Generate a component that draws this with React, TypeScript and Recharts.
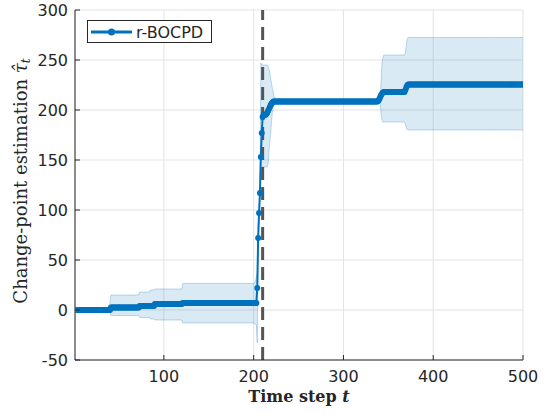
import React from "react";
import {
  ComposedChart,
  Line,
  Area,
  XAxis,
  YAxis,
  CartesianGrid,
  ReferenceLine,
} from "recharts";

// ---- data ----
// estimated change point runs: [startStep, endStep, value]
const estimateRuns: [number, number, number][] = [
  [1, 40, 0], [41, 72, 2.5], [73, 89, 4], [90, 120, 6], [121, 203, 7],
  [204, 204, 22], [205, 205, 72], [206, 206, 97], [207, 207, 117],
  [208, 208, 153], [209, 209, 177], [210, 210, 193], [211, 213, 195],
  [214, 214, 196], [215, 215, 197], [216, 216, 199], [217, 217, 201],
  [218, 218, 203], [219, 219, 205], [220, 220, 206.5], [221, 221, 207.5],
  [222, 338, 208.5], [339, 339, 209.5], [340, 340, 211], [341, 341, 213],
  [342, 342, 215], [343, 343, 216.5], [344, 344, 217.5], [345, 368, 218],
  [369, 369, 220], [370, 370, 222.5], [371, 371, 224.5], [372, 500, 225.5],
];

// uncertainty band runs: [startStep, endStep, lower, upper]
const bandRuns: [number, number, number, number][] = [
  [1, 39, 0, 0], [40, 40, -2, 8], [41, 72, -5.5, 15], [73, 84, -7.5, 18],
  [85, 89, -9, 20], [90, 120, -10, 21], [121, 200, -13, 26.5],
  [201, 201, -14, 27], [202, 202, -14, 29], [203, 203, -15, 33],
  [204, 204, -33, 37], [205, 205, 62, 80], [206, 206, 88, 105],
  [207, 207, 108, 125], [208, 208, 143, 247], [209, 215, 143, 245],
  [216, 216, 146, 244], [217, 217, 158, 241], [218, 218, 168, 238],
  [219, 219, 178, 231], [220, 220, 190, 226], [221, 221, 199, 221],
  [222, 222, 204, 217], [223, 223, 206.5, 213], [224, 224, 207.5, 210],
  [225, 340, 207.5, 209.5], [341, 341, 206, 211], [342, 342, 195, 230],
  [343, 343, 190, 248], [344, 344, 188, 253], [345, 368, 188, 255],
  [369, 369, 186, 257], [370, 370, 182, 265], [371, 371, 180.5, 271],
  [372, 500, 180, 272.5],
];

const trueChangePoint = 210;
const xTicks = [100, 200, 300, 400, 500];
const yTicks = [-50, 0, 50, 100, 150, 200, 250, 300];
const seriesName = "r-BOCPD";

// ---- build table ----
type Row = { t: number; est?: number; band?: [number, number] };
const rowMap = new Map<number, Row>();
for (const [s, e, v] of estimateRuns) {
  for (let t = s; t <= e; t++) {
    const r = rowMap.get(t) || { t };
    r.est = v;
    rowMap.set(t, r);
  }
}
for (const [s, e, lo, hi] of bandRuns) {
  for (let t = s; t <= e; t++) {
    const r = rowMap.get(t) || { t };
    r.band = [lo, hi];
    rowMap.set(t, r);
  }
}
const data: Row[] = Array.from(rowMap.values()).sort((a, b) => a.t - b.t);

const BLUE = "#0072BD";
const AXIS = "#262626";
const TICK_FONT = "DejaVu Sans";

const BottomTick = (p: any) => {
  const { x, y, payload } = p;
  return (
    <g>
      <line x1={x} x2={x} y1={y - 10} y2={y - 15} stroke={AXIS} strokeWidth={1} />
      <text x={x} y={y} dy="0.72em" textAnchor="middle" fill={AXIS} fontSize={16} fontFamily={TICK_FONT}>
        {payload.value}
      </text>
    </g>
  );
};

const LeftTick = (p: any) => {
  const { x, y, payload } = p;
  return (
    <g>
      <line x1={x + 7} x2={x + 12} y1={y} y2={y} stroke={AXIS} strokeWidth={1} />
      <text x={x} y={y} dy="0.36em" textAnchor="end" fill={AXIS} fontSize={16} fontFamily={TICK_FONT}>
        {payload.value}
      </text>
    </g>
  );
};

const TopTick = (p: any) => {
  const { x, y } = p;
  return <line x1={x} x2={x} y1={y} y2={y + 5} stroke={AXIS} strokeWidth={1} />;
};

const RightTick = (p: any) => {
  const { x, y } = p;
  return <line x1={x} x2={x - 5} y1={y} y2={y} stroke={AXIS} strokeWidth={1} />;
};

const XLabel = (p: any) => {
  const vb = p.viewBox || {};
  const cx = vb.x + vb.width / 2;
  return (
    <text x={cx} y={vb.y + 42} textAnchor="middle" fill={AXIS} fontSize={16} fontFamily="DejaVu Serif" fontWeight="bold">
      Time step <tspan fontStyle="italic">t</tspan>
    </text>
  );
};

const YLabel = (p: any) => {
  const vb = p.viewBox || {};
  const cx = 27;
  const cy = vb.y + vb.height / 2 - 4;
  return (
    <text
      x={cx}
      y={cy}
      transform={`rotate(-90 ${cx} ${cy})`}
      textAnchor="middle"
      fill={AXIS}
      fontSize={18}
      fontFamily="DejaVu Serif"
    >
      Change-point estimation{"  "}
      <tspan fontStyle="italic">{"\u03C4\u0302"}</tspan>
      <tspan fontStyle="italic" fontSize={12} dy={3}>t</tspan>
    </text>
  );
};

export default function App() {
  return (
    <div style={{ position: "absolute", left: 0, top: 0, width: 550, height: 414, background: "#fff" }}>
      <ComposedChart
        width={550}
        height={414}
        data={data}
        margin={{ top: 10, right: 27, bottom: 0, left: 0 }}
      >
        <CartesianGrid stroke="#e3e3e3" strokeWidth={1} />
        <XAxis
          dataKey="t"
          type="number"
          domain={[1, 500]}
          ticks={xTicks}
          allowDataOverflow
          height={54}
          stroke={AXIS}
          tickLine={false}
          tickSize={0}
          tickMargin={10}
          tick={<BottomTick />}
          label={<XLabel />}
        />
        <XAxis
          xAxisId="top"
          dataKey="t"
          type="number"
          orientation="top"
          domain={[1, 500]}
          ticks={xTicks}
          allowDataOverflow
          height={0}
          stroke={AXIS}
          tickLine={false}
          tickSize={0}
          tickMargin={0}
          tick={<TopTick />}
        />
        <YAxis
          type="number"
          domain={[-50, 300]}
          ticks={yTicks}
          allowDataOverflow
          width={75}
          stroke={AXIS}
          tickLine={false}
          tickSize={0}
          tickMargin={7}
          tick={<LeftTick />}
          label={<YLabel />}
        />
        <YAxis
          yAxisId="right"
          type="number"
          orientation="right"
          domain={[-50, 300]}
          ticks={yTicks}
          allowDataOverflow
          width={0}
          stroke={AXIS}
          tickLine={false}
          tickSize={0}
          tickMargin={0}
          tick={<RightTick />}
        />
        <Area
          dataKey="band"
          type="linear"
          fill={BLUE}
          fillOpacity={0.15}
          stroke={BLUE}
          strokeOpacity={0.25}
          strokeWidth={1}
          isAnimationActive={false}
          dot={false}
          activeDot={false}
        />
        <ReferenceLine
          x={trueChangePoint}
          stroke="#555555"
          strokeWidth={3}
          strokeDasharray="13 7"
        />
        <Line
          dataKey="est"
          name={seriesName}
          type="linear"
          stroke={BLUE}
          strokeWidth={2}
          dot={{ r: 3, fill: BLUE, stroke: "none" }}
          activeDot={false}
          isAnimationActive={false}
        />
      </ComposedChart>
      <div
        style={{
          position: "absolute",
          left: 87,
          top: 20,
          width: 123,
          height: 21,
          border: `1px solid ${AXIS}`,
          background: "#fff",
        }}
      >
        <svg width={123} height={21} style={{ position: "absolute", left: 0, top: 0 }}>
          <line x1={3} x2={44} y1={11} y2={11} stroke={BLUE} strokeWidth={3} />
          <circle cx={23.5} cy={11} r={3.5} fill={BLUE} />
          <text x={48} y={11} dy="0.36em" fontSize={16} fontFamily={TICK_FONT} fill={AXIS}>
            {seriesName}
          </text>
        </svg>
      </div>
    </div>
  );
}
